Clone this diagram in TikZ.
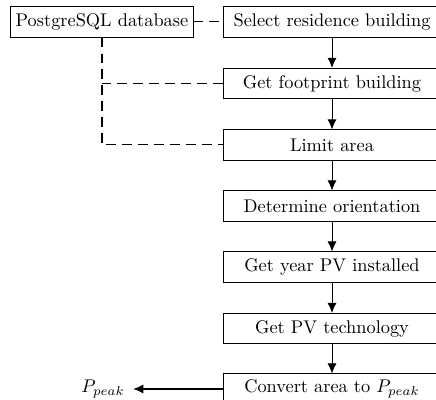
\documentclass[tikz,border=0pt]{standalone}
\usetikzlibrary{arrows.meta}
\begin{document}
\begin{tikzpicture}[x=0.545pt,y=-0.545pt,
  stepbox/.style={draw,line width=0.55pt,minimum width=118.8pt,minimum height=16.4pt,inner sep=0pt,font=\normalsize},
  dbbox/.style={draw,line width=0.55pt,minimum width=99.2pt,minimum height=16.4pt,inner sep=0pt},
  flow/.style={line width=0.55pt,-{Latex[length=5.5pt,width=5pt]}},
  link/.style={line width=0.55pt,dash pattern=on 5.4pt off 3.3pt}]
\clip (0,0) rectangle (436,400);
\node[stepbox] (b1) at (332,22) {Select residence building};
\node[stepbox] (b2) at (332,83.5) {Get footprint building};
\node[stepbox] (b3) at (332,145) {Limit area};
\node[stepbox] (b4) at (332,206) {Determine orientation};
\node[stepbox] (b5) at (332,267) {Get year PV installed};
\node[stepbox] (b6) at (332,328.5) {Get PV technology};
\node[stepbox] (b7) at (332,389) {Convert area to $P_{peak}$};
\node[dbbox] (db) at (102,22) {PostgreSQL database};
\node[inner sep=0pt] (out) at (103,389) {$P_{peak}$};
\draw[flow] (b7.west) -- ([xshift=4.5pt]out.east);
\draw[flow] (b1) -- (b2);
\draw[flow] (b2) -- (b3);
\draw[flow] (b3) -- (b4);
\draw[flow] (b4) -- (b5);
\draw[flow] (b5) -- (b6);
\draw[flow] (b6) -- (b7);
\draw[link] (db.east) -- (b1.west);
\draw[link] (db.south) |- (b3.west);
\draw[link] (b2.west) -- (b2.west -| db.south);
\end{tikzpicture}
\end{document}
